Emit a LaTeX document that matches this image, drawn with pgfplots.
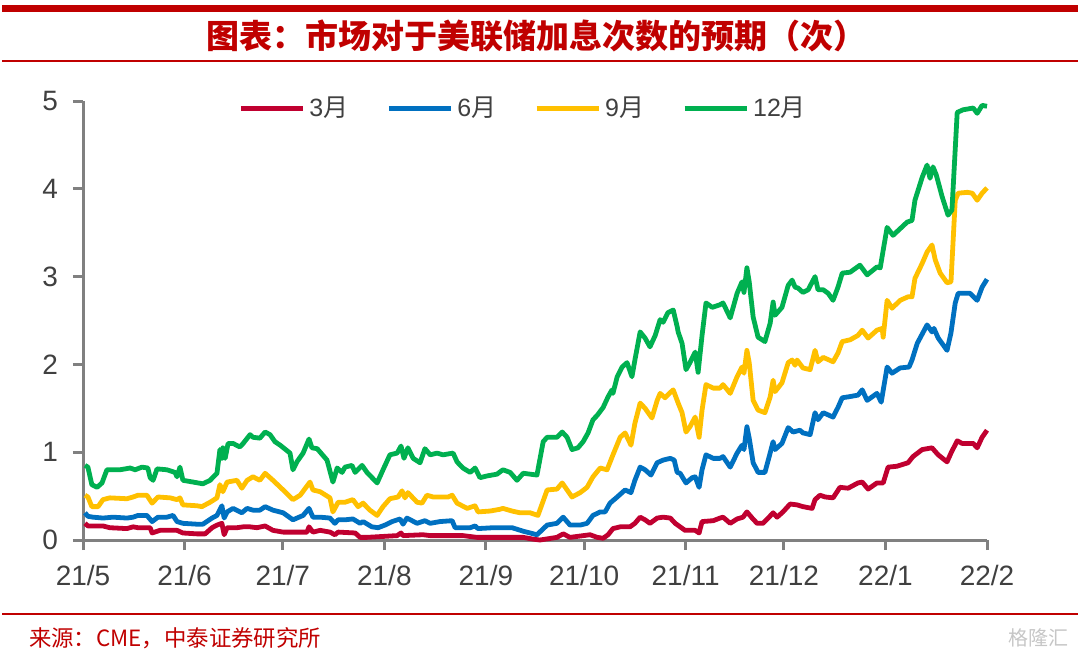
\documentclass[border=0pt]{standalone}
\usepackage{pgfplots}
\pgfplotsset{compat=1.18}
\usepackage{fontspec}
\setmainfont{Liberation Sans}
\newfontfamily\cjk{Noto Sans CJK SC}
\definecolor{cRed}{RGB}{192,0,48}
\definecolor{cBlue}{RGB}{0,112,192}
\definecolor{cYellow}{RGB}{255,192,0}
\definecolor{cGreen}{RGB}{0,176,80}
\definecolor{cTitle}{RGB}{192,0,0}
\definecolor{cAxis}{RGB}{128,128,128}
\definecolor{cText}{RGB}{64,64,64}
\begin{document}
\begin{tikzpicture}
\useasboundingbox (0,0) rectangle (540pt,327pt);
% header and footer rules
\draw[cTitle, line width=3.5pt] (1pt,322.75pt) -- (539pt,322.75pt);
\draw[cTitle, line width=1pt] (1pt,296.5pt) -- (539pt,296.5pt);
\node[cTitle, font=\cjk\bfseries\fontsize{16.5}{16.5}\selectfont] at (268pt,309pt) {图表：市场对于美联储加息次数的预期（次）};
\draw[cTitle, line width=1.2pt] (1pt,20pt) -- (539pt,20pt);
\node[cTitle, anchor=west, font=\cjk\fontsize{11.2}{11.2}\selectfont] at (11pt,8pt) {来源：CME，中泰证券研究所};
\node[gray!45, anchor=east, font=\cjk\fontsize{10}{10}\selectfont] at (538pt,8pt) {格隆汇};

\begin{axis}[
  at={(41.5pt,57pt)}, anchor=south west,
  scale only axis, width=452pt, height=219.5pt,
  xmin=0, xmax=276, ymin=0, ymax=5,
  axis lines*=left,
  axis line style={cAxis, line width=1.5pt},
  tick style={cAxis, line width=1.5pt},
  tick align=outside, major tick length=5pt,
  xtick={0,31,61,92,123,153,184,214,245,276},
  xticklabels={21/5,21/6,21/7,21/8,21/9,21/10,21/11,21/12,22/1,22/2},
  ytick={0,1,2,3,4,5},
  tick label style={font=\fontsize{14}{14}\selectfont, text=cText},
  /pgf/number format/assume math mode=true,
  xticklabel style={yshift=-4pt},
  yticklabel style={xshift=-4pt},
  clip=false,
  legend style={at={(0.488,0.984)}, anchor=center, draw=none, fill=none,
    legend columns=4, font=\fontsize{12.5}{12.5}\selectfont, text=cText,
    /tikz/every even column/.append style={column sep=17pt}},
  legend image code/.code={\draw[#1, line width=2.5pt] (0pt,0pt) -- (31pt,0pt);},
  every axis plot/.append style={line width=2.4pt, line join=round, no markers},
]
\addplot[cRed] coordinates {
(0.6,0.19) (1.5,0.16) (4.3,0.16) (6.1,0.16) (8.2,0.14) (13.4,0.13) (15.3,0.15) (16.8,0.14)
(20.5,0.14) (21.1,0.08) (23.5,0.11) (26.6,0.11) (28.7,0.11) (30.5,0.08) (34.8,0.07) (37.3,0.07)
(39.4,0.14) (40.9,0.17) (42.4,0.19) (43.1,0.06) (44.0,0.14) (47.0,0.14) (48.9,0.15) (51.0,0.15)
(53.1,0.14) (55.6,0.16) (58.0,0.11) (61.1,0.09) (68.4,0.09) (69.0,0.15) (70.2,0.09) (72.4,0.11)
(75.4,0.09) (76.9,0.06) (77.9,0.09) (83.1,0.08) (84.6,0.03) (86.7,0.03) (95.9,0.05) (97.1,0.08)
(97.7,0.05) (103.8,0.06) (106.0,0.05) (116.0,0.05) (120.3,0.03) (128.2,0.03) (134.4,0.03) (137.4,0.01)
(139.5,0.00) (144.7,0.03) (146.6,0.07) (148.7,0.03) (154.8,0.06) (157.0,0.03) (158.8,0.02) (160.3,0.06)
(161.8,0.13) (164.0,0.15) (167.0,0.15) (168.5,0.19) (170.1,0.26) (171.6,0.23) (173.1,0.19) (175.3,0.25)
(177.1,0.26) (179.3,0.25) (180.8,0.19) (182.3,0.15) (183.8,0.11) (186.9,0.11) (188.1,0.08) (189.0,0.21)
(192.4,0.22) (194.5,0.25) (195.4,0.26) (197.6,0.19) (199.7,0.24) (201.5,0.26) (202.7,0.32) (204.3,0.25)
(205.8,0.19) (207.6,0.19) (209.2,0.25) (210.7,0.31) (211.9,0.26) (213.7,0.32) (215.9,0.41) (218.0,0.40)
(219.8,0.38) (222.6,0.36) (223.5,0.46) (225.0,0.51) (226.6,0.49) (229.0,0.48) (231.1,0.60) (233.6,0.59)
(236.6,0.65) (237.9,0.66) (239.7,0.58) (242.4,0.65) (244.3,0.65) (245.8,0.83) (248.5,0.84) (251.9,0.88)
(253.4,0.95) (256.2,1.03) (259.2,1.05) (261.1,0.97) (263.8,0.89) (265.0,0.99) (266.9,1.13) (268.4,1.10)
(271.8,1.10) (273.0,1.05) (274.5,1.17) (276.0,1.25)
};
\addlegendentry{3{\cjk 月}}
\addplot[cBlue] coordinates {
(0.6,0.31) (1.5,0.27) (3.1,0.26) (6.1,0.25) (9.2,0.26) (13.4,0.25) (15.3,0.26) (16.8,0.28)
(19.5,0.28) (21.1,0.21) (22.9,0.26) (25.6,0.26) (27.5,0.28) (28.7,0.21) (30.5,0.19) (34.8,0.18)
(36.6,0.18) (39.4,0.25) (40.9,0.28) (42.4,0.39) (43.1,0.25) (44.0,0.32) (45.8,0.36) (48.5,0.31)
(50.1,0.36) (51.9,0.34) (54.0,0.34) (55.6,0.38) (58.0,0.34) (61.1,0.31) (64.1,0.23) (67.2,0.28)
(69.0,0.36) (70.2,0.26) (72.4,0.26) (75.4,0.25) (76.9,0.19) (77.9,0.23) (80.0,0.23) (82.4,0.24)
(84.6,0.19) (85.5,0.21) (88.2,0.15) (90.1,0.14) (92.2,0.17) (94.4,0.21) (96.8,0.24) (97.7,0.18)
(98.9,0.25) (102.0,0.19) (104.4,0.22) (106.0,0.19) (109.0,0.21) (112.7,0.22) (113.6,0.14) (118.2,0.14)
(119.7,0.16) (120.6,0.13) (125.2,0.14) (128.2,0.14) (131.0,0.14) (134.4,0.10) (138.6,0.06) (141.7,0.17)
(144.7,0.19) (146.6,0.26) (148.7,0.17) (151.8,0.17) (153.9,0.19) (155.7,0.28) (157.9,0.32) (159.4,0.32)
(160.9,0.42) (163.1,0.49) (165.5,0.57) (167.3,0.54) (168.5,0.68) (170.1,0.83) (171.6,0.80) (173.4,0.74)
(175.3,0.88) (177.1,0.91) (179.3,0.93) (180.5,0.91) (181.4,0.77) (182.3,0.76) (184.1,0.65) (186.0,0.71)
(186.9,0.72) (188.1,0.60) (189.0,0.80) (190.2,0.97) (192.4,0.93) (194.5,0.93) (195.4,0.95) (197.6,0.83)
(199.7,0.99) (201.2,1.08) (201.8,1.03) (202.7,1.29) (203.4,1.16) (204.6,0.88) (206.1,0.77) (208.2,0.77)
(209.5,0.95) (210.7,1.12) (211.3,1.03) (213.4,1.10) (215.3,1.28) (216.8,1.23) (218.9,1.25) (219.8,1.22)
(222.0,1.20) (223.5,1.45) (224.4,1.37) (226.0,1.45) (229.0,1.40) (230.5,1.51) (231.8,1.62) (233.6,1.63)
(236.6,1.65) (237.9,1.71) (239.4,1.59) (242.4,1.67) (243.7,1.57) (245.5,1.97) (247.0,1.90) (249.5,1.96)
(252.2,1.97) (253.1,2.05) (254.7,2.24) (257.7,2.45) (259.2,2.37) (259.8,2.41) (261.1,2.30) (263.8,2.16)
(265.0,2.36) (266.3,2.70) (267.2,2.81) (270.8,2.81) (273.0,2.73) (274.5,2.88) (276.0,2.97)
};
\addlegendentry{6{\cjk 月}}
\addplot[cYellow] coordinates {
(0.6,0.51) (1.5,0.49) (2.7,0.38) (4.6,0.38) (6.1,0.46) (8.2,0.48) (13.4,0.47) (15.3,0.49)
(16.8,0.51) (19.5,0.51) (21.1,0.42) (22.9,0.49) (26.6,0.48) (28.7,0.46) (29.6,0.48) (30.5,0.40)
(34.8,0.39) (36.3,0.38) (38.8,0.43) (40.9,0.48) (41.8,0.63) (42.7,0.55) (44.0,0.66) (47.0,0.68)
(48.5,0.59) (50.1,0.68) (51.9,0.72) (54.0,0.68) (55.6,0.76) (58.0,0.68) (61.1,0.57) (64.1,0.46)
(66.3,0.51) (69.3,0.66) (70.2,0.57) (72.4,0.55) (75.4,0.48) (76.3,0.32) (77.9,0.43) (80.0,0.43)
(82.4,0.46) (84.0,0.38) (85.5,0.42) (87.6,0.34) (89.8,0.28) (91.6,0.38) (93.7,0.47) (96.2,0.49)
(97.4,0.56) (98.3,0.48) (99.2,0.54) (102.0,0.43) (103.5,0.42) (105.0,0.51) (106.9,0.49) (109.0,0.49)
(111.5,0.49) (112.7,0.51) (114.2,0.42) (117.3,0.36) (119.7,0.39) (120.6,0.32) (124.3,0.33) (127.3,0.35)
(128.2,0.36) (131.0,0.33) (133.4,0.31) (136.5,0.31) (138.9,0.28) (141.7,0.57) (144.7,0.58) (146.3,0.65)
(147.8,0.57) (149.3,0.49) (151.8,0.54) (153.9,0.60) (155.7,0.72) (157.9,0.82) (160.0,0.80) (161.8,0.97)
(164.0,1.17) (165.5,1.22) (167.3,1.08) (168.5,1.33) (170.1,1.56) (171.6,1.50) (173.7,1.39) (175.3,1.59)
(176.2,1.67) (177.7,1.62) (179.0,1.67) (180.2,1.71) (181.4,1.59) (181.7,1.56) (182.9,1.45) (184.1,1.23)
(185.3,1.29) (186.9,1.40) (188.1,1.17) (189.0,1.48) (190.2,1.77) (192.4,1.73) (194.5,1.73) (195.4,1.77)
(197.6,1.67) (199.7,1.86) (201.2,1.97) (201.8,1.90) (202.7,2.16) (203.4,2.02) (204.6,1.59) (206.1,1.48)
(208.2,1.45) (209.8,1.63) (210.7,1.82) (211.3,1.69) (213.4,1.79) (215.3,2.02) (216.5,2.05) (217.4,1.99)
(218.0,2.05) (219.8,1.96) (222.0,1.94) (223.5,2.16) (224.4,2.03) (226.0,2.08) (229.0,2.03) (230.5,2.13)
(231.8,2.26) (234.2,2.28) (236.6,2.33) (237.9,2.39) (239.7,2.30) (242.4,2.39) (244.0,2.41) (244.3,2.31)
(245.5,2.73) (247.0,2.64) (249.5,2.73) (251.9,2.77) (253.1,2.77) (254.0,2.98) (256.2,3.15) (257.7,3.28)
(259.2,3.36) (260.2,3.19) (261.7,3.04) (263.8,2.93) (265.0,2.94) (266.3,3.87) (267.2,3.95) (270.0,3.96)
(271.5,3.95) (273.0,3.87) (274.5,3.95) (276.0,4.01)
};
\addlegendentry{9{\cjk 月}}
\addplot[cGreen] coordinates {
(0.6,0.85) (1.5,0.83) (2.7,0.63) (4.3,0.60) (5.8,0.65) (7.3,0.80) (11.3,0.80) (14.4,0.82)
(15.9,0.80) (18.0,0.83) (19.8,0.82) (20.5,0.71) (21.4,0.68) (22.6,0.81) (25.6,0.80) (28.1,0.77)
(28.7,0.72) (29.6,0.83) (30.5,0.68) (33.6,0.66) (36.6,0.64) (38.8,0.68) (40.9,0.76) (41.8,1.03)
(42.4,0.93) (42.7,1.05) (43.4,0.93) (44.3,1.10) (45.8,1.10) (47.9,1.06) (48.9,1.10) (51.0,1.20)
(51.9,1.17) (54.0,1.16) (55.6,1.23) (57.1,1.20) (58.6,1.12) (60.2,1.08) (63.2,0.99) (64.1,0.80)
(65.3,0.89) (67.2,0.99) (69.0,1.15) (69.9,1.05) (71.5,1.04) (74.5,0.91) (76.3,0.66) (77.6,0.82)
(79.1,0.77) (80.0,0.83) (82.1,0.85) (83.1,0.77) (85.2,0.85) (86.7,0.77) (89.8,0.65) (91.6,0.80)
(93.7,0.97) (95.9,0.99) (97.1,1.07) (98.0,0.93) (99.2,1.05) (100.8,0.93) (102.9,0.88) (104.4,1.04)
(106.0,0.97) (108.1,0.99) (109.9,0.97) (113.0,0.99) (114.2,0.89) (116.0,0.82) (118.2,0.77) (119.7,0.82)
(121.2,0.71) (123.4,0.73) (126.4,0.75) (128.2,0.80) (130.4,0.77) (132.5,0.68) (134.4,0.76) (138.6,0.74)
(140.5,1.12) (141.7,1.17) (144.7,1.17) (146.3,1.23) (147.8,1.17) (149.3,1.03) (151.1,1.05) (152.7,1.12)
(154.2,1.22) (155.7,1.37) (157.0,1.42) (158.8,1.51) (160.3,1.63) (161.5,1.71) (161.8,1.67) (163.1,1.86)
(164.6,1.97) (166.1,2.02) (167.6,1.86) (168.5,2.05) (170.1,2.37) (171.6,2.30) (173.1,2.20) (174.7,2.33)
(176.2,2.51) (177.1,2.48) (178.6,2.59) (180.2,2.62) (181.4,2.43) (181.7,2.37) (182.9,2.24) (184.1,1.94)
(185.3,2.02) (186.9,2.14) (187.8,1.91) (189.0,2.33) (190.2,2.70) (192.1,2.65) (194.5,2.68) (195.4,2.70)
(197.6,2.53) (199.7,2.81) (201.2,2.94) (201.8,2.82) (202.7,3.10) (203.4,2.94) (204.6,2.54) (206.1,2.31)
(208.2,2.26) (209.8,2.47) (210.7,2.71) (211.3,2.56) (213.4,2.65) (215.3,2.90) (216.5,2.96) (217.4,2.88)
(218.3,2.87) (219.8,2.82) (221.4,2.85) (223.5,3.00) (224.4,2.85) (226.0,2.85) (227.5,2.81) (229.0,2.73)
(230.5,2.88) (231.8,3.04) (234.2,3.05) (237.2,3.13) (239.4,3.02) (242.4,3.11) (243.4,3.10) (244.3,3.30)
(245.5,3.56) (247.3,3.47) (251.6,3.62) (253.1,3.64) (254.0,3.87) (256.2,4.13) (257.7,4.27) (258.6,4.12)
(259.5,4.25) (260.5,4.16) (262.3,3.91) (264.1,3.70) (265.3,3.76) (266.9,4.87) (268.7,4.90) (271.8,4.92)
(273.0,4.86) (274.5,4.95) (276.0,4.94)
};
\addlegendentry{12{\cjk 月}}
\end{axis}
\end{tikzpicture}
\end{document}
